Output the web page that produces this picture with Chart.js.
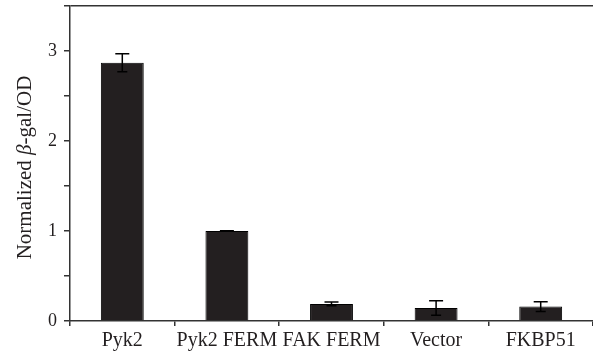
<!DOCTYPE html>
<html lang="en">
<head>
    <meta charset="UTF-8">
    <title>Normalized beta-gal/OD</title>
    <script src="https://cdn.jsdelivr.net/npm/chart.js"></script>
    <style>
        * { margin: 0; padding: 0; box-sizing: border-box; }
        body { background: #fff; }
        .chart-container { width: 593px; height: 355px; position: relative; }
    </style>
</head>
<body>
    <div class="chart-container">
        <canvas id="bgal-chart"></canvas>
    </div>

    <script>
        const categories = ["Pyk2", "Pyk2 FERM", "FAK FERM", "Vector", "FKBP51"];
        const means = [2.87, 1.0, 0.19, 0.145, 0.16];
        const errors = [0.1, 0.004, 0.02, 0.08, 0.055];
        const yTicks = [0, 1, 2, 3];

        const serif = "'Liberation Serif', 'Times New Roman', serif";
        const ink = '#231f20';

        // error bars, drawn through the y scale
        const errorBars = {
            id: 'errorBars',
            afterDatasetsDraw(chart) {
                const ctx = chart.ctx;
                const y = chart.scales.y;
                const meta = chart.getDatasetMeta(0);
                ctx.save();
                ctx.strokeStyle = '#000';
                ctx.lineWidth = 1.5;
                meta.data.forEach((bar, i) => {
                    const top = y.getPixelForValue(means[i] + errors[i]);
                    const bot = y.getPixelForValue(means[i] - errors[i]);
                    ctx.beginPath();
                    ctx.moveTo(bar.x, top);
                    ctx.lineTo(bar.x, bot);
                    ctx.moveTo(bar.x - 7, top);
                    ctx.lineTo(bar.x + 7, top);
                    ctx.moveTo(bar.x - 5, bot);
                    ctx.lineTo(bar.x + 5, bot);
                    ctx.stroke();
                });
                ctx.restore();
            }
        };

        // y title with an italic beta
        const yTitle = {
            id: 'yTitle',
            afterDraw(chart) {
                const ctx = chart.ctx;
                const area = chart.chartArea;
                const parts = [
                    ['Normalized ', 'normal'],
                    ['\u03B2', 'italic'],
                    ['-gal/OD', 'normal']
                ];
                ctx.save();
                let total = 0;
                parts.forEach(p => {
                    ctx.font = p[1] + ' 21px ' + serif;
                    total += ctx.measureText(p[0]).width;
                });
                ctx.translate(25, (area.top + area.bottom) / 2 + 4);
                ctx.rotate(-Math.PI / 2);
                ctx.fillStyle = ink;
                ctx.textBaseline = 'middle';
                let x = -total / 2;
                parts.forEach(p => {
                    ctx.font = p[1] + ' 21px ' + serif;
                    ctx.fillText(p[0], x, 0);
                    x += ctx.measureText(p[0]).width;
                });
                ctx.restore();
            }
        };

        const chartConfig = {
            type: 'bar',
            data: {
                labels: categories,
                datasets: [{
                    data: means,
                    backgroundColor: ink,
                    borderColor: '#000',
                    borderWidth: 1,
                    categoryPercentage: 1,
                    barPercentage: 0.41
                }]
            },
            options: {
                responsive: true,
                maintainAspectRatio: false,
                animation: false,
                layout: { padding: { top: 6, right: 0, left: 0, bottom: 0 } },
                plugins: {
                    legend: { display: false },
                    tooltip: { enabled: false }
                },
                scales: {
                    x: {
                        grid: {
                            offset: true,
                            drawOnChartArea: false,
                            tickLength: 5,
                            color: '#333',
                            lineWidth: 1.5
                        },
                        border: { color: '#333', width: 1.5 },
                        ticks: {
                            color: ink,
                            font: { family: serif, size: 20 },
                            padding: 3,
                            maxRotation: 0,
                            autoSkip: false
                        },
                        afterFit(scale) { scale.height = 34; }
                    },
                    y: {
                        min: 0,
                        max: 3.5,
                        grid: {
                            tickLength: 6,
                            tickColor: '#333',
                            color: c => (c.tick && c.tick.value === 3.5) ? '#333' : 'rgba(0,0,0,0)',
                            lineWidth: 1.5
                        },
                        border: { color: '#333', width: 1.5 },
                        ticks: {
                            stepSize: 0.5,
                            color: ink,
                            font: { family: serif, size: 18 },
                            padding: 7,
                            callback: v => yTicks.includes(v) ? String(v) : ''
                        },
                        afterFit(scale) {
                            scale.width = 70;
                            scale.paddingTop = 0;
                            scale.paddingBottom = 0;
                        }
                    }
                }
            },
            plugins: [errorBars, yTitle]
        };

        const ctx = document.getElementById('bgal-chart').getContext('2d');
        new Chart(ctx, chartConfig);
    </script>
</body>
</html>
